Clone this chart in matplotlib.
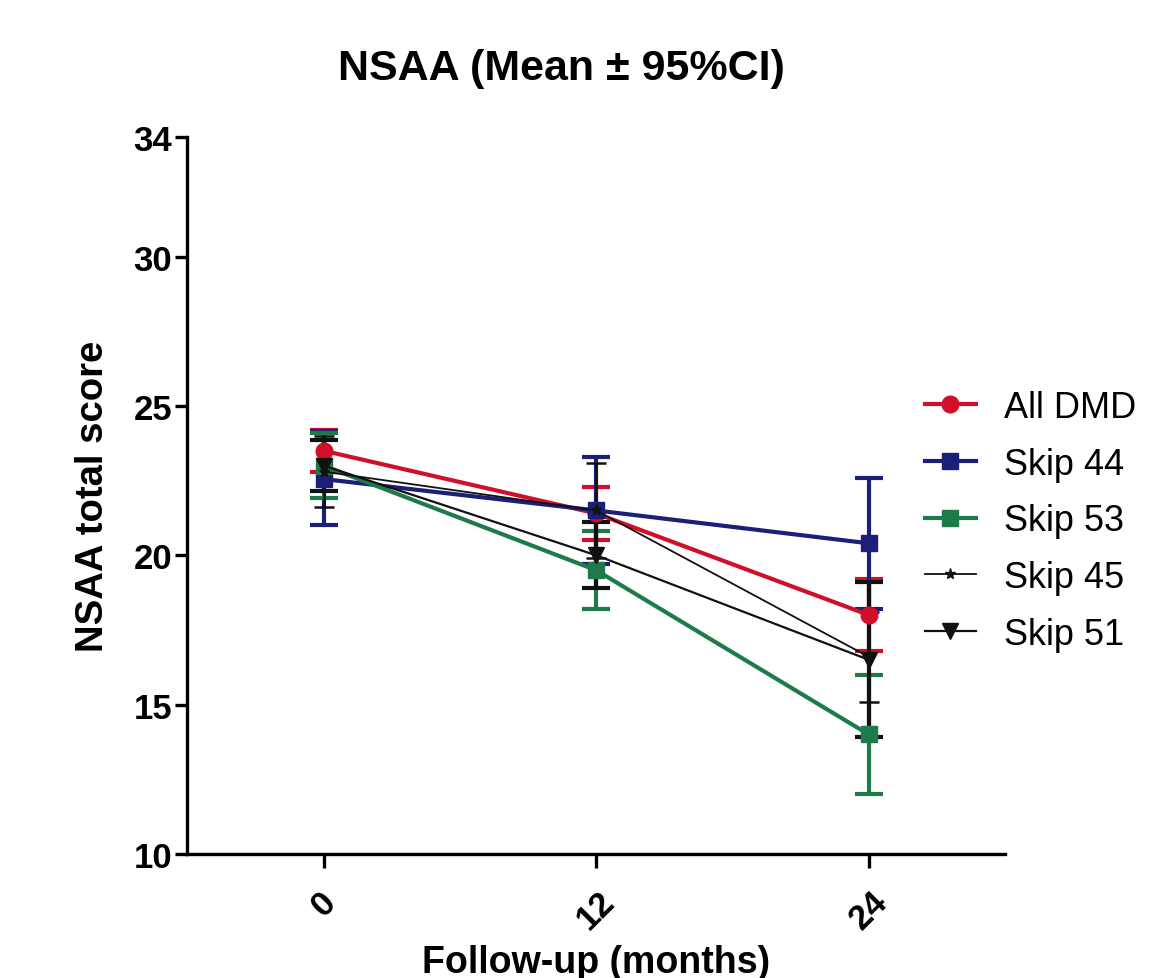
import numpy as np
import matplotlib.pyplot as plt

plt.rcParams['font.family'] = ['Liberation Sans', 'DejaVu Sans']

# Follow-up time points (months)
months = [0, 12, 24]

# Mean and 95% CI (lower, upper) per group
all_dmd = [23.5, 21.4, 18.0]
all_dmd_lo = [22.8, 20.5, 16.8]
all_dmd_hi = [24.2, 22.3, 19.2]

skip44 = [22.55, 21.5, 20.4]
skip44_lo = [21.0, 19.7, 18.2]
skip44_hi = [24.15, 23.3, 22.6]

skip53 = [23.0, 19.5, 14.0]
skip53_lo = [21.9, 18.2, 12.0]
skip53_hi = [24.1, 20.8, 16.0]

skip45 = [22.8, 21.5, 16.6]
skip45_lo = [21.6, 19.9, 15.1]
skip45_hi = [24.0, 23.1, 18.1]

skip51 = [23.0, 20.0, 16.5]
skip51_lo = [22.15, 18.9, 13.9]
skip51_hi = [23.85, 21.1, 19.1]

groups = [
    ("All DMD", all_dmd, all_dmd_lo, all_dmd_hi, "#d0102a", "o", 12, 3.0, 3.0),
    ("Skip 44", skip44, skip44_lo, skip44_hi, "#1b1f78", "s", 11, 3.0, 3.0),
    ("Skip 53", skip53, skip53_lo, skip53_hi, "#1f7a4a", "s", 11, 3.0, 3.0),
    ("Skip 45", skip45, skip45_lo, skip45_hi, "#111111", "*", 8, 1.3, 1.8),
    ("Skip 51", skip51, skip51_lo, skip51_hi, "#111111", "v", 11, 1.6, 3.0),
]

fig = plt.figure(figsize=(11.7, 9.79), dpi=100)
ax = fig.add_axes([0.160, 0.1267, 0.699, 0.7323])

handles = []
for name, m, lo, hi, col, mk, ms, lw, elw in groups:
    m = np.array(m)
    err = [m - np.array(lo), np.array(hi) - m]
    ax.errorbar(months, m, yerr=err, fmt='none', ecolor=col, elinewidth=elw,
                capsize=10 if elw > 2 else 7, capthick=elw, zorder=3)
    h, = ax.plot(months, m, color=col, lw=lw, marker=mk, ms=ms, zorder=4)
    handles.append(h)

ax.set_xlim(-6, 30)
ax.set_ylim(10, 34)
ax.set_xticks(months)
ax.set_xticklabels([str(x) for x in months], rotation=45, fontweight='bold')
ax.set_yticks([10, 15, 20, 25, 30, 34])
ax.tick_params(axis='y', labelsize=25, width=2.4, length=9, pad=2)
ax.tick_params(axis='x', labelsize=25, width=2.4, length=10, pad=12)
for lbl in ax.get_yticklabels():
    lbl.set_fontweight('bold')

for s in ['top', 'right']:
    ax.spines[s].set_visible(False)
for s in ['left', 'bottom']:
    ax.spines[s].set_linewidth(2.4)

ax.set_ylabel("NSAA total score", fontsize=27.5, fontweight='bold', labelpad=16)
ax.set_xlabel("Follow-up (months)", fontsize=27, fontweight='bold', labelpad=6)
fig.text(0.48, 0.93, "NSAA (Mean \u00b1 95%CI)", fontsize=31, fontweight='bold',
         ha='center', va='center')

fig.legend(handles=handles, labels=[g[0] for g in groups], loc='center left',
           bbox_to_anchor=(0.763, 0.467), frameon=False, fontsize=26,
           handlelength=1.4, labelspacing=0.6, handletextpad=0.78)

fig.savefig("out.png", dpi=100)
